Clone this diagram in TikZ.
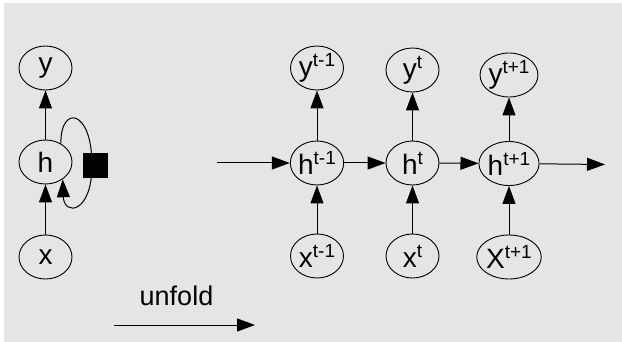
\documentclass[tikz,border=0pt]{standalone}
\usepackage{fontspec}
\setmainfont{Liberation Sans}
\usetikzlibrary{shapes.geometric,arrows.meta}
\definecolor{bg}{HTML}{E5E5E5}
\newcommand\lblsup[2]{#1\raisebox{10pt}{\fontsize{19}{19}\selectfont #2}}
\begin{document}
\begin{tikzpicture}[x=1pt,y=-1pt,
 unit/.style={ellipse,draw,line width=0.9pt,minimum width=53pt,minimum height=44pt,inner sep=0pt,font=\fontsize{28}{28}\selectfont},
 conn/.style={line width=1pt,-{Triangle[length=18pt,width=13pt]}},
]
\fill[white] (0,0) rectangle (622,342);
\fill[bg] (4,3) rectangle (622,342);
\useasboundingbox (0,0) rectangle (622,342);
% left folded network
\node[unit] (y) at (45.5,68) {y};
\node[unit] (h) at (45.5,162) {h};
\node[unit] (x) at (45.5,257) {x};
\node[fill=black,minimum size=25pt,inner sep=0pt] (sq) at (95.5,165.5) {};
\draw[conn] (x) -- (h);
\draw[conn] (h) -- (y);
\draw[conn] (h.50) .. controls (60,105) and (92,108) .. (92,165) .. controls (92,214) and (64,216) .. (h.-45);
% unrolled network
\node[unit] (y1) at (317,68) {\lblsup{y}{t-1}};
\node[unit] (y2) at (412.5,70) {\lblsup{y}{t}};
\node[unit] (y3) at (509,75) {\lblsup{y}{t+1}};
\node[unit] (h1) at (317,163) {\lblsup{h}{t-1}};
\node[unit] (h2) at (412.5,163) {\lblsup{h}{t}};
\node[unit] (h3) at (509,163.5) {\lblsup{h}{t+1}};
\node[unit] (x1) at (317,256) {\lblsup{x}{t-1}};
\node[unit] (x2) at (412.5,256) {\lblsup{x}{t}};
\node[unit] (x3) at (509,257) {\lblsup{X}{t+1}};
\coordinate (in) at (217,163);
\coordinate (out) at (605,164.5);
\draw[conn] (in) -- (h1);
\draw[conn] (h1) -- (h2);
\draw[conn] (h2) -- (h3);
\draw[conn] (h3) -- (out);
\foreach \i in {1,2,3}{
  \draw[conn] (x\i) -- (h\i);
  \draw[conn] (h\i) -- (y\i);
}
% unfold label
\node[font=\fontsize{27}{27}\selectfont] (unf) at (176.5,296) {unfold};
\coordinate (ua) at (114,325);
\coordinate (ub) at (255,325);
\draw[conn] (ua) -- (ub);
\end{tikzpicture}
\end{document}
